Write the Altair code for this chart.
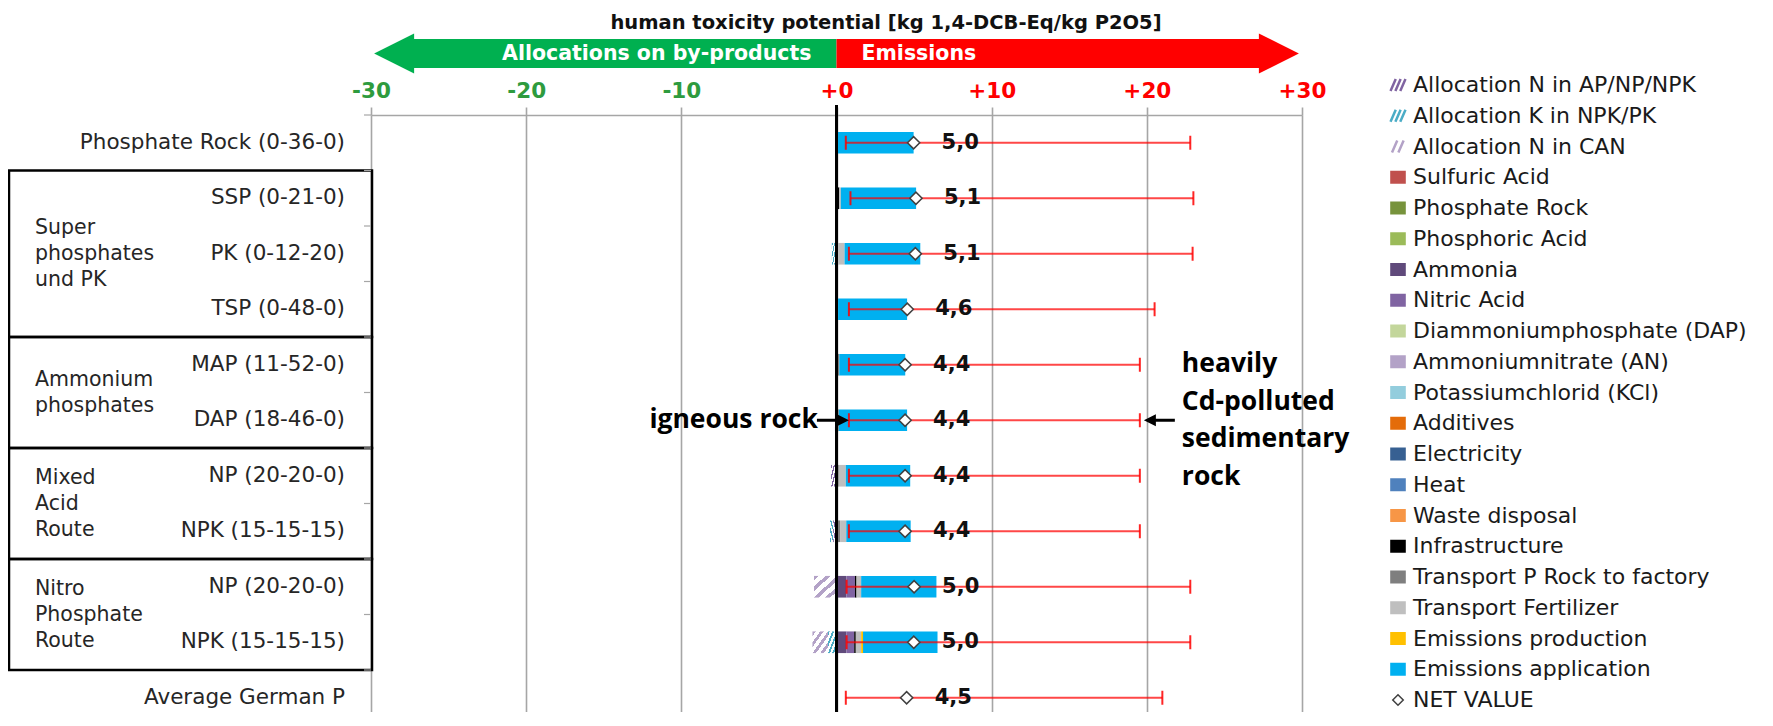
import altair as alt
import pandas as pd

# ---------------- data ----------------
categories = ["Phosphate Rock (0-36-0)", "SSP (0-21-0)", "PK (0-12-20)", "TSP (0-48-0)",
              "MAP (11-52-0)", "DAP (18-46-0)", "NP (20-20-0)", "NPK (15-15-15)",
              "NP (20-20-0)", "NPK (15-15-15)", "Average German P"]

group_names = ["Super\nphosphates\nund PK", "Ammonium\nphosphates", "Mixed\nAcid\nRoute",
               "Nitro\nPhosphate\nRoute"]
group_first = [1, 4, 6, 8]
group_last = [3, 5, 7, 9]

alloc_names = ["Allocation N in AP/NP/NPK", "Allocation K in NPK/PK", "Allocation N in CAN"]
alloc_colors = ["#8064A2", "#4BACC6", "#B3A2C7"]
alloc_n_ap = [0, 0, 0, 0, 0, -0.1, -0.35, -0.22, 0, 0, 0]
alloc_k = [0, 0, -0.3, 0, 0, 0, 0, -0.2, 0, -0.55, 0]
alloc_n_can = [0, 0, 0, 0, 0, 0, 0, 0, -1.45, -1.0, 0]

emis_names = ["Sulfuric Acid", "Phosphate Rock", "Phosphoric Acid", "Ammonia", "Nitric Acid",
              "Diammoniumphosphate (DAP)", "Ammoniumnitrate (AN)", "Potassiumchlorid (KCl)",
              "Additives", "Electricity", "Heat", "Waste disposal", "Infrastructure",
              "Transport P Rock to factory", "Transport Fertilizer", "Emissions production",
              "Emissions application"]
emis_colors = ["#C0504D", "#77933C", "#9BBB59", "#604A7B", "#8064A2", "#C3D69B", "#B3A2C7",
               "#93CDDD", "#E46C0A", "#376092", "#4F81BD", "#F79646", "#000000", "#7F7F7F",
               "#BFBFBF", "#FFC000", "#00B0F0"]
sulfuric_acid = [0, 0, 0, 0, 0, 0, 0, 0, 0, 0, 0]
phosphate_rock = [0, 0, 0, 0, 0, 0, 0, 0, 0, 0, 0]
phosphoric_acid = [0, 0, 0, 0.1, 0.08, 0, 0, 0.08, 0, 0, 0]
ammonia = [0, 0, 0, 0, 0, 0, 0, 0, 0.64, 0.64, 0]
nitric_acid = [0, 0, 0, 0, 0, 0, 0, 0, 0.55, 0.5, 0]
dap = [0, 0, 0, 0, 0, 0, 0, 0, 0, 0, 0]
an = [0, 0, 0, 0, 0, 0, 0, 0, 0, 0, 0]
kcl = [0, 0, 0, 0, 0, 0, 0, 0, 0, 0, 0]
additives = [0, 0, 0, 0, 0, 0, 0, 0, 0, 0, 0]
electricity = [0, 0, 0, 0, 0, 0, 0, 0, 0, 0, 0]
heat = [0, 0, 0, 0, 0, 0, 0, 0, 0, 0, 0]
waste_disposal = [0, 0, 0, 0, 0, 0, 0, 0, 0, 0, 0]
infrastructure = [0, 0.18, 0, 0, 0, 0, 0, 0, 0.1, 0.1, 0]
transport_rock = [0, 0, 0.12, 0, 0.1, 0.15, 0.15, 0.15, 0, 0.05, 0]
transport_fert = [0, 0.1, 0.4, 0, 0, 0, 0.45, 0.4, 0.3, 0.3, 0]
emissions_prod = [0, 0, 0, 0, 0, 0, 0, 0, 0, 0.12, 0]
emissions_app = [4.97, 4.85, 4.88, 4.45, 4.25, 4.4, 4.15, 4.15, 4.85, 4.8, 0]

net_value = [4.97, 5.12, 5.08, 4.56, 4.42, 4.42, 4.42, 4.42, 5.0, 4.98, 4.52]
err_low = [0.6, 0.9, 0.8, 0.8, 0.8, 0.8, 0.8, 0.8, 0.65, 0.65, 0.6]
err_high = [22.8, 23.0, 22.95, 20.5, 19.55, 19.55, 19.55, 19.55, 22.8, 22.8, 21.0]

axis_ticks = [-30, -20, -10, 0, 10, 20, 30]
title_text = "human toxicity potential [kg 1,4-DCB-Eq/kg P2O5]"
arrow_left_text = "Allocations on by-products"
arrow_right_text = "Emissions"
igneous_text = "igneous rock"
sedimentary_text = "heavily\nCd-polluted\nsedimentary\nrock"
annot_row = 5

# ---------------- tables ----------------
alloc_values = [alloc_n_ap, alloc_k, alloc_n_can]
emis_values = [sulfuric_acid, phosphate_rock, phosphoric_acid, ammonia, nitric_acid, dap, an,
               kcl, additives, electricity, heat, waste_disposal, infrastructure,
               transport_rock, transport_fert, emissions_prod, emissions_app]

rows = []
for i in range(len(categories)):
    pos = 0.0
    for name, col, vals in zip(emis_names, emis_colors, emis_values):
        v = vals[i]
        if v > 0:
            rows.append(dict(idx=i, series=name, color=col, x0=pos, x1=pos + v))
            pos += v
    neg = 0.0
    for name, col, vals in zip(alloc_names, alloc_colors, alloc_values):
        v = vals[i]
        if v < 0:
            rows.append(dict(idx=i, series=name, color=col, x0=neg + v, x1=neg))
            neg += v
seg = pd.DataFrame(rows)
BAR_HALF = 0.195
seg["y0"] = seg["idx"] - BAR_HALF
seg["y1"] = seg["idx"] + BAR_HALF

cat_df = pd.DataFrame({"idx": list(range(len(categories))), "name": categories,
                       "net": net_value, "lo": err_low, "hi": err_high})
cat_df["lbl"] = [f"{v:.1f}".replace(".", ",") for v in net_value]
caps_df = pd.concat([
    pd.DataFrame({"idx": cat_df["idx"], "v": cat_df["lo"]}),
    pd.DataFrame({"idx": cat_df["idx"], "v": cat_df["hi"]}),
])

# ---------------- scales ----------------
W, H = 931, 597
ROW_PX = 55.5
GROUP_LH = 26
SED_LH = 37.5

grp_df = pd.DataFrame({"name": group_names, "first": group_first, "last": group_last})
grp_df["b0"] = grp_df["first"] - 0.5
grp_df["b1"] = grp_df["last"] + 0.5
grp_df["nl"] = [n.count("\n") for n in group_names]
grp_df["ytxt"] = (grp_df["first"] + grp_df["last"]) / 2 - grp_df["nl"] * GROUP_LH / 2 / ROW_PX

bound_df = pd.DataFrame({"b": [k + 0.5 for k in range(-1, len(categories))]})

HATCH3 = "M-1,0.8L-0.3,-0.8M-0.35,0.8L0.35,-0.8M0.3,0.8L1,-0.8"
HATCH2 = "M-0.8,0.8L-0.1,-0.8M0.05,0.8L0.75,-0.8"
leg_names = alloc_names + emis_names + ["NET VALUE"]
leg_colors = alloc_colors + emis_colors + ["#404040"]
leg_kind = ["hatch"] * 3 + ["square"] * len(emis_names) + ["diamond"]
leg_path = [HATCH3, HATCH3, HATCH2] + [""] * len(emis_names) + [""]
leg_df = pd.DataFrame({"name": leg_names, "color": leg_colors, "kind": leg_kind,
                       "path": leg_path, "i": list(range(len(leg_names)))})

one = pd.DataFrame({"z": [0]})
ann_df = pd.DataFrame({"idx": [annot_row], "lo": [err_low[annot_row]],
                       "hi": [err_high[annot_row]]})

xscale = alt.Scale(domain=[-30, 30], nice=False, zero=False)
yscale = alt.Scale(domain=[-0.5, -0.5 + H / ROW_PX], reverse=True, nice=False, zero=False)
xaxis = alt.Axis(
    orient="top", values=axis_ticks, grid=True, gridColor="#A6A6A6", gridWidth=1.6,
    domain=True, domainColor="#A6A6A6", domainWidth=1.6, ticks=True, tickColor="#A6A6A6",
    tickSize=8, tickWidth=1.6, labelFont="DejaVu Sans", labelFontWeight="bold",
    labelFontSize=21.5, labelPadding=5, labelFlush=False,
    labelExpr="datum.value > 0 ? '+' + datum.value : (datum.value == 0 ? '+0' : '-' + abs(datum.value))",
    labelColor={"condition": {"test": "datum.value < 0", "value": "#2E9B3E"}, "value": "#FF0000"},
    title=None)


def X(f):
    return alt.X(f, type="quantitative", scale=xscale, axis=xaxis)


def Y(f):
    return alt.Y(f, type="quantitative", scale=yscale, axis=None)


def hatch_fill(color, n=4):
    stops = []
    for k in range(n):
        a, b, c = k / n, (k + 0.45) / n, (k + 1) / n
        stops += [{"offset": a, "color": color}, {"offset": b, "color": color},
                  {"offset": b, "color": "#FFFFFF"}, {"offset": c, "color": "#FFFFFF"}]
    return {"gradient": "linear", "x1": 0, "y1": 0, "x2": 1, "y2": 1, "stops": stops}


FONT = "DejaVu Sans"
layers = []

# group boxes and left labels
layers.append(alt.Chart(grp_df).mark_rect(fillOpacity=0, stroke="black", strokeWidth=2.5).encode(
    x=alt.value(-362), x2=alt.value(1), y=Y("b0"), y2=alt.Y2("b1")))
layers.append(alt.Chart(bound_df).mark_rule(color="#A6A6A6", strokeWidth=1.2).encode(
    x=alt.value(-7), x2=alt.value(0), y=Y("b")))
layers.append(alt.Chart(cat_df).mark_text(align="right", baseline="middle", font=FONT,
                                          fontSize=21.5, color="#262626").encode(
    x=alt.value(-26), y=Y("idx"), text="name:N"))
layers.append(alt.Chart(grp_df).mark_text(align="left", baseline="middle", font=FONT,
                                          fontSize=20.5, color="#262626", lineBreak="\n",
                                          lineHeight=GROUP_LH).encode(
    x=alt.value(-336), y=Y("ytxt"), text="name:N"))

# bars
solid = seg[~seg["series"].isin(alloc_names)]
layers.append(alt.Chart(solid).mark_rect().encode(
    x=X("x0"), x2=alt.X2("x1"), y=Y("y0"), y2=alt.Y2("y1"),
    color=alt.Color("color:N", scale=None)))
for name, col in zip(alloc_names, alloc_colors):
    sub = seg[seg["series"] == name]
    if len(sub):
        layers.append(alt.Chart(sub).mark_rect(fill=hatch_fill(col)).encode(
            x=X("x0"), x2=alt.X2("x1"), y=Y("y0"), y2=alt.Y2("y1")))

# zero line
layers.append(alt.Chart(one).mark_rule(color="black", strokeWidth=3).encode(
    x=X("z"), y=alt.value(-10), y2=alt.value(H + 5)))

# error bars
layers.append(alt.Chart(cat_df).mark_rule(color="#FF0000", opacity=0.72, strokeWidth=2).encode(
    x=X("lo"), x2=alt.X2("hi"), y=Y("idx")))
layers.append(alt.Chart(caps_df).mark_point(shape="M0,-1L0,1", size=196, filled=False,
                                            color="#FF0000", strokeWidth=2, opacity=0.85).encode(
    x=X("v"), y=Y("idx")))

# net value diamonds + labels
layers.append(alt.Chart(cat_df).mark_point(shape="diamond", size=150, filled=True, fill="white",
                                           stroke="#404040", strokeWidth=1.5, opacity=1).encode(
    x=X("net"), y=Y("idx")))
layers.append(alt.Chart(cat_df).mark_text(align="left", baseline="middle", dx=28, font=FONT,
                                          fontWeight="bold", fontSize=21, color="#111111").encode(
    x=X("net"), y=Y("idx"), text="lbl:N"))

# top arrow
TIP, BASE = 29.8, 27.25
arrow_body = pd.DataFrame({"x0": [-BASE, 0], "x1": [0, BASE], "color": ["#00B050", "#FF0000"]})
arrow_head = pd.DataFrame({"x": [-TIP, TIP], "color": ["#00B050", "#FF0000"],
                           "path": ["M0,0L2,-1L2,1Z", "M0,0L-2,-1L-2,1Z"]})
layers.append(alt.Chart(arrow_body).mark_rect().encode(
    x=X("x0"), x2=alt.X2("x1"), y=alt.value(-76), y2=alt.value(-47),
    color=alt.Color("color:N", scale=None)))
layers.append(alt.Chart(arrow_head).mark_point(size=1600, filled=True, opacity=1, strokeWidth=0).encode(
    x=X("x"), y=alt.value(-61.5), color=alt.Color("color:N", scale=None),
    shape=alt.Shape("path:N", scale=None)))
layers.append(alt.Chart(one).mark_text(text=arrow_left_text, align="right", baseline="middle",
                                       dx=-25, font=FONT, fontWeight="bold", fontSize=20.5,
                                       color="white").encode(x=X("z"), y=alt.value(-61)))
layers.append(alt.Chart(one).mark_text(text=arrow_right_text, align="left", baseline="middle",
                                       dx=25, font=FONT, fontWeight="bold", fontSize=20.5,
                                       color="white").encode(x=X("z"), y=alt.value(-61)))
layers.append(alt.Chart(one).mark_text(text=title_text, align="center", baseline="middle",
                                       font=FONT, fontWeight="bold", fontSize=19.5,
                                       color="#111111").encode(x=alt.value(515), y=alt.value(-92)))

# annotations
AFONT = "Open Sans"
layers.append(alt.Chart(ann_df).mark_text(text=igneous_text, align="right", baseline="middle",
                                          dx=-31, font=AFONT, fontWeight="bold", fontSize=26.5,
                                          color="black").encode(x=X("lo"), y=Y("idx")))
layers.append(alt.Chart(ann_df).mark_rule(color="black", strokeWidth=3, xOffset=-32,
                                          x2Offset=-8).encode(
    x=X("lo"), x2=alt.X2("lo"), y=Y("idx")))
layers.append(alt.Chart(ann_df).mark_point(shape="M0,0L-2,-1L-2,1Z", size=144, filled=True,
                                           color="black", opacity=1).encode(
    x=X("lo"), y=Y("idx")))
layers.append(alt.Chart(ann_df).mark_point(shape="M0,0L2,-1L2,1Z", size=144, filled=True,
                                           color="black", opacity=1, xOffset=4).encode(
    x=X("hi"), y=Y("idx")))
layers.append(alt.Chart(ann_df).mark_rule(color="black", strokeWidth=3, xOffset=10,
                                          x2Offset=35).encode(
    x=X("hi"), x2=alt.X2("hi"), y=Y("idx")))
layers.append(alt.Chart(ann_df).mark_text(text=sedimentary_text, align="left", baseline="middle",
                                          dx=42, dy=-1.5 * SED_LH, font=AFONT, fontWeight="bold",
                                          fontSize=26.5, lineBreak="\n", lineHeight=SED_LH,
                                          color="black").encode(x=X("hi"), y=Y("idx")))

# legend
LEG_X = 1027
leg_base = alt.Chart(leg_df).transform_calculate(py="-30 + datum.i * 30.75")
layers.append(leg_base.transform_filter("datum.kind == 'square'").mark_point(
    shape="M-1.2,-1L1.2,-1L1.2,1L-1.2,1Z", size=169, filled=True, opacity=1, strokeWidth=0).encode(
    x=alt.value(LEG_X), y=alt.Y("py:Q", scale=None), color=alt.Color("color:N", scale=None)))
layers.append(leg_base.transform_filter("datum.kind == 'hatch'").mark_point(
    size=225, filled=False, opacity=1, strokeWidth=2.5).encode(
    x=alt.value(LEG_X), y=alt.Y("py:Q", scale=None), color=alt.Color("color:N", scale=None),
    shape=alt.Shape("path:N", scale=None)))
layers.append(leg_base.transform_filter("datum.kind == 'diamond'").mark_point(
    shape="diamond", size=110, filled=True, fill="white", stroke="#404040", strokeWidth=1.5,
    opacity=1).encode(x=alt.value(LEG_X), y=alt.Y("py:Q", scale=None)))
layers.append(leg_base.mark_text(align="left", baseline="middle", font=FONT, fontSize=22,
                                 color="#1A1A1A").encode(
    x=alt.value(LEG_X + 15), y=alt.Y("py:Q", scale=None), text="name:N"))

chart = alt.layer(*layers).properties(
    width=W, height=H,
    padding={"left": 363, "top": 107, "right": 461, "bottom": 0},
    autosize=alt.AutoSizeParams(type="none"),
    background="white",
).configure_view(stroke=None)

chart.save("out.html", embed_options={"renderer": "svg", "actions": False})
